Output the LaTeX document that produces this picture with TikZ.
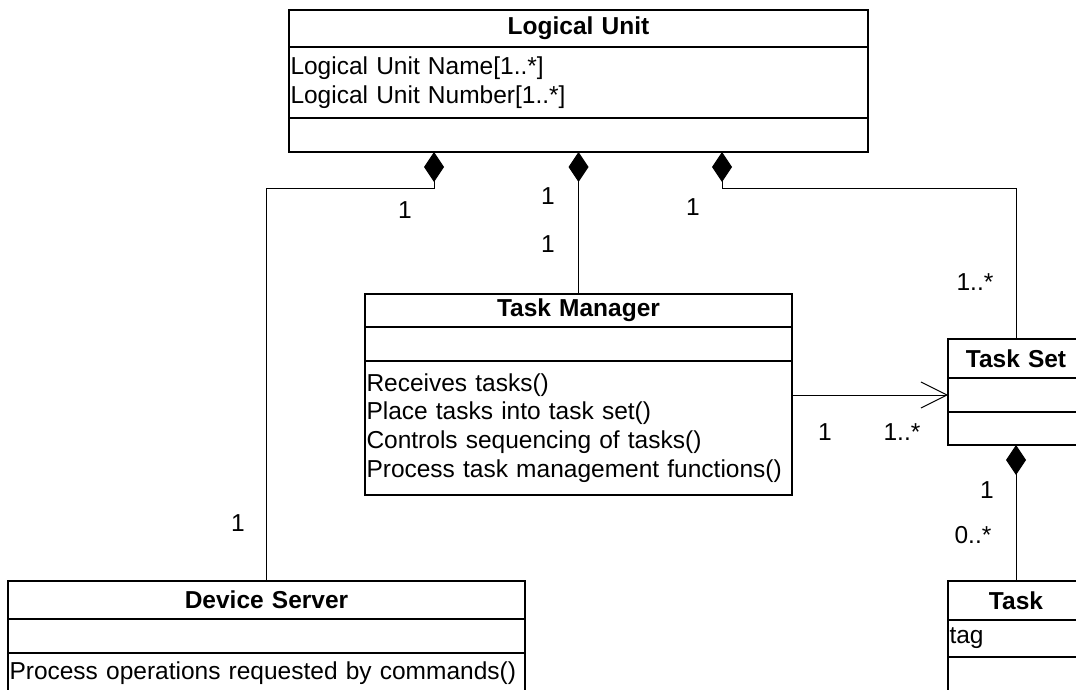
\documentclass[tikz,border=0pt]{standalone}
\usepackage{fontspec}
\setmainfont{Liberation Sans}
\usetikzlibrary{positioning,arrows.meta}

\newcommand\umlsize{\fontsize{24.5}{28.7}\selectfont}
\tikzset{
	classhead/.style={draw,line width=1.5pt,outer sep=0pt,inner xsep=1.5pt,inner ysep=0pt,font=\umlsize\bfseries,align=center},
	classpart/.style={draw,line width=1.5pt,outer sep=0pt,inner xsep=1.5pt,inner ysep=0pt,font=\umlsize,align=left},
	compos/.style={{Diamond[length=30pt,width=20pt]}-,line width=1pt},
	assoc/.style={-{Straight Barb[length=26pt,width=26pt]},line width=1pt},
	mult/.style={inner sep=0pt,font=\umlsize}
}

\begin{document}
\begin{tikzpicture}[x=1pt,y=-1pt]
		\useasboundingbox (0,0) rectangle (1076,690);
		\clip (0,0) rectangle (1076,690);
		% classes
		\node[classhead,text width=576pt,minimum height=37pt,anchor=north west] (luh) at (289,10) {Logical Unit};
		\node[classpart,text width=576pt,minimum height=71pt,below=0pt of luh] (lua) {Logical Unit Name[1..*]\\Logical Unit Number[1..*]};
		\node[classpart,text width=576pt,minimum height=34pt,below=0pt of lua] (luo) {};
		\node[classhead,text width=424pt,minimum height=33pt,anchor=north west] (tmh) at (365,294) {Task Manager};
		\node[classpart,text width=424pt,minimum height=34pt,below=0pt of tmh] (tma) {};
		\node[classpart,text width=424pt,minimum height=134pt,below=0pt of tma] (tmo) {Receives tasks()\\Place tasks into task set()\\Controls sequencing of tasks()\\Process task management functions()};
		\node[classhead,text width=133pt,minimum height=39pt,anchor=north west] (tsh) at (948,339) {Task Set};
		\node[classpart,text width=133pt,minimum height=34pt,below=0pt of tsh] (tsa) {};
		\node[classpart,text width=133pt,minimum height=33pt,below=0pt of tsa] (tso) {};
		\node[classhead,text width=133pt,minimum height=39pt,anchor=north west] (tkh) at (948,581) {Task};
		\node[classpart,text width=133pt,minimum height=37pt,below=0pt of tkh] (tka) {tag};
		\node[classpart,text width=133pt,minimum height=45pt,below=0pt of tka] (tko) {};
		\node[classhead,text width=514pt,minimum height=38pt,anchor=north west] (dsh) at (8,581) {Device Server};
		\node[classpart,text width=514pt,minimum height=34pt,below=0pt of dsh] (dsa) {};
		\node[classpart,text width=514pt,minimum height=40pt,below=0pt of dsa] (dso) {Process operations requested by commands()};
		% connectors
		\coordinate (luL) at ([xshift=145pt]luo.south west);
		\coordinate (luR) at ([xshift=-146pt]luo.south east);
		\draw[compos] (luL) -- ++(0,36) -| (dsh.north);
		\draw[compos] (tmh.north |- luo.south) -- (tmh.north);
		\draw[compos] (luR) -- ++(0,36) -| (tsh.north);
		\draw[compos] (tso.south) -- (tkh.north);
		\draw[assoc] (tmo.east |- tsa.west) -- (tsa.west);
		% multiplicities
		\node[mult] (mDSlu) at (405,210) {1};
		\node[mult] (mLUds) at (238,523) {1};
		\node[mult] (mTMlu) at (548,196) {1};
		\node[mult] (mLUtm) at (548,244) {1};
		\node[mult] (mTSlu) at (693,207) {1};
		\node[mult] (mLUts) at (975,282) {1..*};
		\node[mult] (mTMts) at (825,432) {1};
		\node[mult] (mTStm) at (902,432) {1..*};
		\node[mult] (mTStk) at (987,490) {1};
		\node[mult] (mTKts) at (973,535) {0..*};
\end{tikzpicture}
\end{document}
